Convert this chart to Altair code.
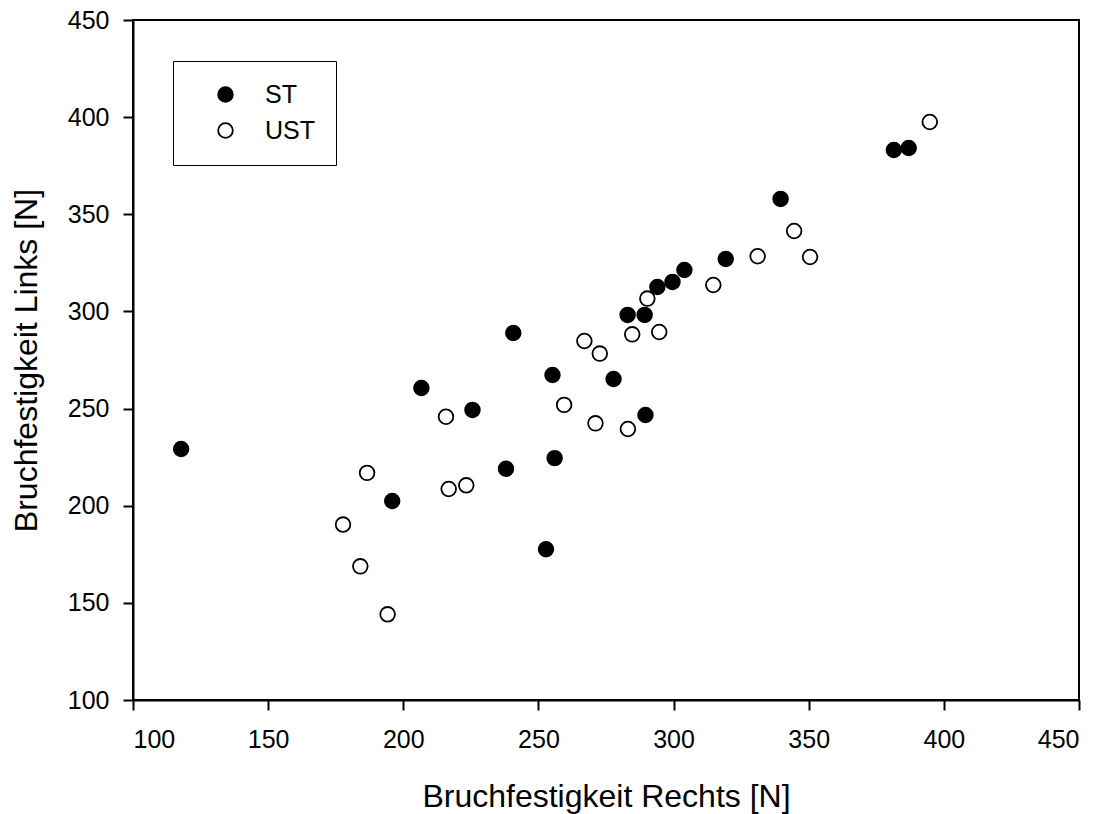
import altair as alt
import pandas as pd

# Data
rechts_st = [117.8, 195.9, 206.7, 225.6, 240.7, 238.0, 252.8, 255.2, 256.0, 277.8,
             289.6, 283.0, 289.3, 294.0, 299.6, 304.0, 319.3, 339.6, 381.5, 387.0]
links_st = [229.2, 202.4, 260.6, 249.3, 288.9, 219.0, 177.6, 267.3, 224.5, 265.2,
            246.7, 298.2, 298.2, 312.6, 315.2, 321.3, 327.0, 357.9, 383.1, 384.1]

rechts_ust = [177.7, 184.1, 186.6, 194.2, 215.8, 216.8, 223.3, 259.5, 267.0, 271.1,
              272.7, 283.1, 284.7, 290.3, 294.7, 314.7, 331.1, 344.6, 350.5, 394.8]
links_ust = [190.3, 168.8, 216.9, 144.1, 245.8, 208.6, 210.5, 251.9, 284.8, 242.4,
             278.3, 239.5, 288.2, 306.6, 289.4, 313.6, 328.4, 341.4, 328.0, 397.5]

groups = ["ST", "UST"]
x_ticks = [100, 150, 200, 250, 300, 350, 400, 450]
y_ticks = [100, 150, 200, 250, 300, 350, 400, 450]

df = pd.DataFrame({
    "rechts": rechts_st + rechts_ust,
    "links": links_st + links_ust,
    "gruppe": [groups[0]] * len(rechts_st) + [groups[1]] * len(rechts_ust),
    "order": list(range(len(rechts_st) + len(rechts_ust))),
})

FONT = "Liberation Sans"

chart = alt.Chart(df).mark_circle(
    size=215, stroke="black", strokeWidth=1.8, opacity=1
).encode(
    x=alt.X("rechts:Q", scale=alt.Scale(domain=[100, 450], nice=False, zero=False),
            axis=alt.Axis(title="Bruchfestigkeit Rechts [N]", values=x_ticks,
                          titleX=473, titleY=106, titleBaseline="alphabetic",
                          labelPadding=17)),
    y=alt.Y("links:Q", scale=alt.Scale(domain=[100, 450], nice=False, zero=False),
            axis=alt.Axis(title="Bruchfestigkeit Links [N]", values=y_ticks,
                          titleX=-97, titleY=340, titleAngle=270,
                          titleBaseline="alphabetic", titleAlign="center",
                          labelPadding=14)),
    fill=alt.Fill("gruppe:N",
                  scale=alt.Scale(domain=groups, range=["black", "white"]),
                  legend=alt.Legend(title=None, orient="none", legendX=40, legendY=41,
                                    padding=21, strokeColor="black", fillColor="white",
                                    symbolOffset=19, labelOffset=27, rowPadding=10,
                                    symbolSize=215, symbolType="circle",
                                    symbolStrokeColor="black", symbolStrokeWidth=1.8,
                                    labelFontSize=25, labelFont=FONT, labelColor="black")),
    order=alt.Order("order:Q"),
).properties(
    width=946, height=680,
    autosize=alt.AutoSizeParams(type="none"),
    padding={"left": 133, "top": 20, "right": 27, "bottom": 114},
).configure_view(
    stroke="black", strokeWidth=2
).configure_axis(
    grid=False,
    domainColor="black", domainWidth=2,
    tickColor="black", tickWidth=2, tickSize=10,
    labelFont=FONT, labelFontSize=25, labelColor="black",
    titleFont=FONT, titleFontSize=32, titleColor="black", titleFontWeight="normal",
)

chart.save("out.html", embed_options={"renderer": "svg", "actions": False})
